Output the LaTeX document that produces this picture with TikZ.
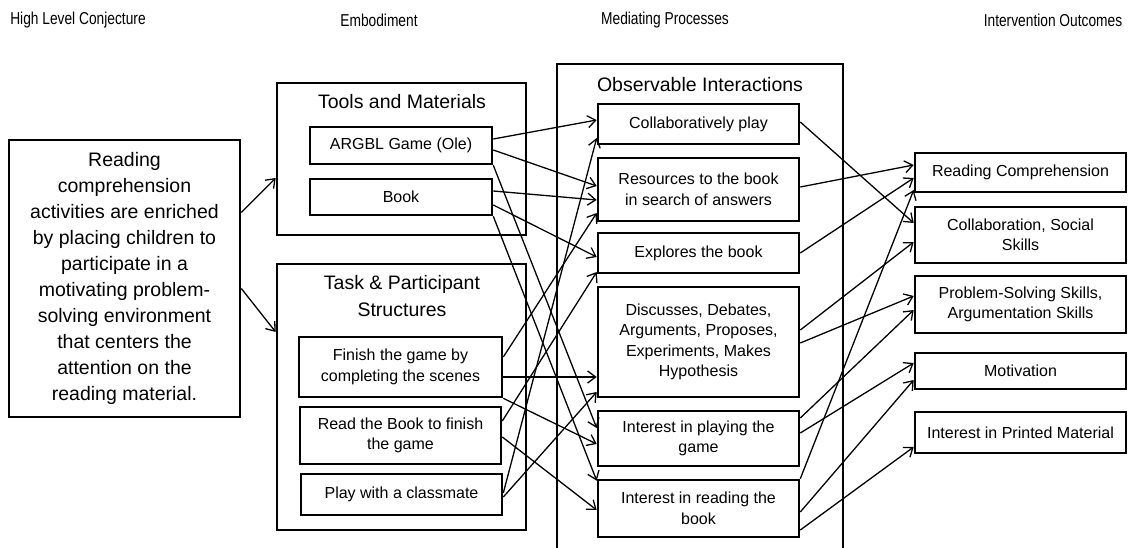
\documentclass[tikz,border=0pt]{standalone}
\usepackage{fontspec}
\setmainfont{Liberation Sans}
\usetikzlibrary{arrows.meta,calc}
\newcommand{\narrowtext}[1]{\scalebox{0.8}[1]{#1}}
\begin{document}
\begin{tikzpicture}[x=1pt,y=-1pt,
  box/.style={draw, line width=2.6pt, align=center, inner sep=0pt,
    font=\fontsize{16}{20.5}\selectfont},
  grp/.style={draw, line width=2.6pt, inner sep=0pt},
  head/.style={font=\fontsize{17.2}{20}\selectfont},
  ttl/.style={align=center, font=\fontsize{19.5}{27}\selectfont},
  arr/.style={line width=1.3pt, -{Straight Barb[length=8pt,width=12pt,line width=1.3pt]}}]
\useasboundingbox (0,0) rectangle (1128,548);

% column headings
\node[head] (h1) at (78,20) {\narrowtext{High Level Conjecture}};
\node[head] (h2) at (379,20) {\narrowtext{Embodiment}};
\node[head] (h3) at (665,20) {\narrowtext{Mediating Processes}};
\node[head] (h4) at (1053,20) {\narrowtext{Intervention Outcomes}};

% conjecture
\node[box, font=\fontsize{19.5}{26}\selectfont, minimum width=231pt, minimum height=277pt] (conj) at (124.5,278.5)
  {Reading\\comprehension\\activities are enriched\\by placing children to\\participate in a\\motivating problem-\\solving environment\\that centers the\\attention on the\\reading material.};

% embodiment: tools and materials
\node[grp, minimum width=249pt, minimum height=152pt] (tools) at (401.5,159) {};
\node[ttl] (toolsT) at (402,102) {Tools and Materials};
\node[box, minimum width=182pt, minimum height=37pt] (argbl) at (401,145.5) {ARGBL Game (Ole)};
\node[box, minimum width=182pt, minimum height=36pt] (book) at (401,197) {Book};

% embodiment: task & participant structures
\node[grp, minimum width=249pt, minimum height=266pt] (task) at (401.5,397) {};
\node[ttl] (taskT) at (402,296.5) {Task \& Participant\\Structures};
\node[box, minimum width=203pt, minimum height=60pt] (finish) at (400.5,367) {Finish the game by\\completing the scenes};
\node[box, minimum width=201pt, minimum height=57pt] (read) at (400.5,435.5) {Read the Book to finish\\the game};
\node[box, minimum width=201pt, minimum height=41pt] (play) at (401.5,494.5) {Play with a classmate};

% mediating processes
\draw[grp] (557,556) -- (557,64) -- (843,64) -- (843,556);
\node[ttl] (obsT) at (700,85) {Observable Interactions};
\node[box, minimum width=201pt, minimum height=40pt] (collab) at (698.5,124) {Collaboratively play};
\node[box, minimum width=201pt, minimum height=63pt] (res) at (698.5,189.5) {Resources to the book\\in search of answers};
\node[box, minimum width=201pt, minimum height=40pt] (expl) at (698.5,253) {Explores the book};
\node[box, minimum width=201pt, minimum height=110pt] (disc) at (698.5,342) {Discusses, Debates,\\Arguments, Proposes,\\Experiments, Makes\\Hypothesis};
\node[box, minimum width=201pt, minimum height=55pt] (iplay) at (698.5,438.5) {Interest in playing the\\game};
\node[box, minimum width=201pt, minimum height=57pt] (iread) at (698.5,508.5) {Interest in reading the\\book};

% intervention outcomes
\node[box, minimum width=211pt, minimum height=39pt] (rc) at (1020.5,172.5) {Reading Comprehension};
\node[box, minimum width=211pt, minimum height=56pt] (cs) at (1020.5,235) {Collaboration, Social\\Skills};
\node[box, minimum width=211pt, minimum height=57pt] (ps) at (1020.5,304.5) {Problem-Solving Skills,\\Argumentation Skills};
\node[box, minimum width=211pt, minimum height=36pt] (mot) at (1020.5,371) {Motivation};
\node[box, minimum width=211pt, minimum height=41pt] (ipm) at (1020.5,432.5) {Interest in Printed Material};

% conjecture -> embodiment
\draw[arr] ($(conj.east)+(0,-66)$) -- ($(tools.west)+(0,19)$);
\draw[arr] ($(conj.east)+(0,10)$) -- ($(task.west)+(0,-65)$);

% embodiment -> mediating processes
\draw[arr] ($(argbl.east)+(0,-6.5)$) -- ($(collab.west)+(0,-4)$);
\draw[arr] ($(argbl.east)+(0,4.5)$) -- ($(res.west)+(0,-3.5)$);
\draw[arr] (argbl.south east) -- ($(iplay.west)+(0,-10.5)$);
\draw[arr] ($(book.east)+(0,-6)$) -- ($(res.west)+(0,10.5)$);
\draw[arr] ($(book.east)+(0,8)$) -- ($(expl.west)+(0,4)$);
\draw[arr] (book.south east) -- ($(iread.north west)+(0,2)$);
\draw[arr] ($(finish.east)+(0,-10)$) -- ($(res.west)+(0,23.5)$);
\draw[arr] ($(finish.east)+(0,10)$) -- ($(disc.west)+(0,35)$);
\draw[arr] (finish.south east) -- ($(iplay.west)+(0,5.5)$);
\draw[arr] ($(read.east)+(0,-14.5)$) -- ($(expl.west)+(0,19)$);
\draw[arr] ($(read.east)+(0,1.5)$) -- ($(iread.west)+(0,1.5)$);
\draw[arr] ($(play.east)+(0,-1.5)$) -- ($(collab.west)+(0,14)$);
\draw[arr] ($(play.east)+(0,2.5)$) -- ($(disc.west)+(0,50)$);

% mediating processes -> outcomes
\draw[arr] ($(collab.east)+(0,-2)$) -- ($(cs.west)+(0,-12)$);
\draw[arr] ($(res.east)+(0,-2.5)$) -- ($(rc.west)+(0,-7.5)$);
\draw[arr] (expl.east) -- ($(rc.west)+(0,5.5)$);
\draw[arr] ($(disc.east)+(0,-12)$) -- ($(cs.west)+(0,7)$);
\draw[arr] ($(disc.east)+(0,1)$) -- ($(ps.west)+(0,-8.5)$);
\draw[arr] ($(iplay.east)+(0,-20.5)$) -- ($(ps.west)+(0,5.5)$);
\draw[arr] ($(iplay.east)+(0,-5.5)$) -- ($(mot.west)+(0,-8)$);
\draw[arr] (iread.north east) -- ($(rc.west)+(0,17.5)$);
\draw[arr] ($(iread.east)+(0,3.5)$) -- ($(mot.west)+(0,9)$);
\draw[arr] ($(iread.east)+(0,21.5)$) -- ($(ipm.west)+(0,14.5)$);
\end{tikzpicture}
\end{document}
